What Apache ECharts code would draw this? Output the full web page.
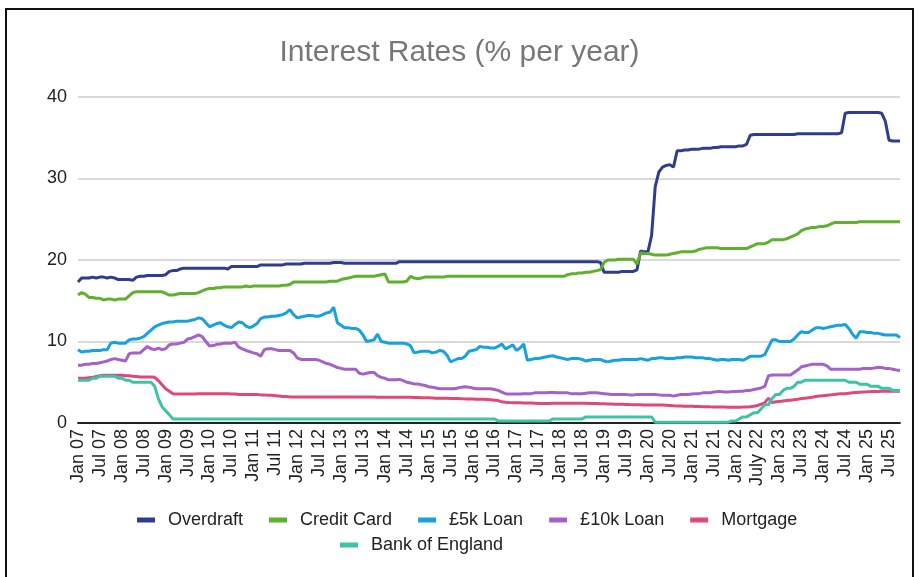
<!DOCTYPE html>
<html>
<head>
<meta charset="utf-8">
<script src="https://cdn.jsdelivr.net/npm/echarts@6/dist/echarts.min.js"></script>
<style>
html,body{margin:0;padding:0;background:#fff;}
#chart{width:919px;height:577px;}
#frame{position:absolute;left:5px;top:8px;width:909px;height:600px;border:2px solid #111;box-sizing:border-box;pointer-events:none;}
</style>
</head>
<body>
<div id="chart"></div>
<div id="frame"></div>
<script>
// Monthly values, Jan 2007 .. Oct 2025 (one line per year)
const overdraft = [
17.3,17.8,17.8,17.8,17.9,17.8,17.9,17.9,17.8,17.9,17.8,17.6,
17.6,17.6,17.6,17.5,17.9,18.0,18.0,18.1,18.1,18.1,18.1,18.1,
18.2,18.6,18.7,18.7,18.9,19.0,19.0,19.0,19.0,19.0,19.0,19.0,
19.0,19.0,19.0,19.0,19.0,18.9,19.2,19.2,19.2,19.2,19.2,19.2,
19.2,19.2,19.4,19.4,19.4,19.4,19.4,19.4,19.4,19.5,19.5,19.5,
19.5,19.5,19.6,19.6,19.6,19.6,19.6,19.6,19.6,19.6,19.7,19.7,
19.7,19.6,19.6,19.6,19.6,19.6,19.6,19.6,19.6,19.6,19.6,19.6,
19.6,19.6,19.6,19.6,19.8,19.8,19.8,19.8,19.8,19.8,19.8,19.8,
19.8,19.8,19.8,19.8,19.8,19.8,19.8,19.8,19.8,19.8,19.8,19.8,
19.8,19.8,19.8,19.8,19.8,19.8,19.8,19.8,19.8,19.8,19.8,19.8,
19.8,19.8,19.8,19.8,19.8,19.8,19.8,19.8,19.8,19.8,19.8,19.8,
19.8,19.8,19.8,19.8,19.8,19.8,19.8,19.8,19.8,19.8,19.8,19.7,
18.5,18.5,18.5,18.5,18.5,18.6,18.6,18.6,18.6,18.8,21.1,21.0,
21.0,23.0,29.0,30.8,31.4,31.6,31.7,31.4,33.4,33.4,33.5,33.5,
33.6,33.6,33.6,33.7,33.7,33.7,33.8,33.8,33.9,33.9,33.9,33.9,
33.9,34.0,34.0,34.2,35.3,35.4,35.4,35.4,35.4,35.4,35.4,35.4,
35.4,35.4,35.4,35.4,35.4,35.5,35.5,35.5,35.5,35.5,35.5,35.5,
35.5,35.5,35.5,35.5,35.5,35.6,38.0,38.1,38.1,38.1,38.1,38.1,
38.1,38.1,38.1,38.1,38.0,37.0,34.7,34.6,34.6,34.6
];
const creditCard = [
15.7,16.0,15.8,15.4,15.4,15.3,15.3,15.1,15.2,15.2,15.1,15.2,
15.2,15.2,15.6,16.0,16.1,16.1,16.1,16.1,16.1,16.1,16.1,16.1,
15.9,15.7,15.7,15.8,15.9,15.9,15.9,15.9,15.9,16.0,16.2,16.4,
16.5,16.5,16.6,16.6,16.7,16.7,16.7,16.7,16.7,16.7,16.8,16.7,
16.8,16.8,16.8,16.8,16.8,16.8,16.8,16.8,16.9,16.9,17.0,17.3,
17.3,17.3,17.3,17.3,17.3,17.3,17.3,17.3,17.3,17.4,17.4,17.4,
17.6,17.7,17.8,17.9,18.0,18.0,18.0,18.0,18.0,18.0,18.1,18.2,
18.3,17.3,17.3,17.3,17.3,17.3,17.4,18.0,17.8,17.7,17.8,17.9,
17.9,17.9,17.9,17.9,17.9,18.0,18.0,18.0,18.0,18.0,18.0,18.0,
18.0,18.0,18.0,18.0,18.0,18.0,18.0,18.0,18.0,18.0,18.0,18.0,
18.0,18.0,18.0,18.0,18.0,18.0,18.0,18.0,18.0,18.0,18.0,18.0,
18.0,18.0,18.2,18.3,18.3,18.4,18.4,18.5,18.5,18.6,18.7,18.8,
19.7,20.0,20.0,20.0,20.1,20.1,20.1,20.1,20.1,19.5,20.9,20.8,
20.8,20.7,20.6,20.6,20.6,20.6,20.7,20.8,20.9,21.0,21.0,21.0,
21.0,21.1,21.3,21.4,21.5,21.5,21.5,21.5,21.4,21.4,21.4,21.4,
21.4,21.4,21.4,21.4,21.6,21.8,22.0,22.0,22.0,22.2,22.5,22.5,
22.5,22.5,22.6,22.8,23.0,23.2,23.6,23.8,23.9,24.0,24.0,24.1,
24.1,24.2,24.4,24.6,24.6,24.6,24.6,24.6,24.6,24.6,24.7,24.7,
24.7,24.7,24.7,24.7,24.7,24.7,24.7,24.7,24.7,24.7
];
const loan5k = [
9.0,8.7,8.8,8.8,8.9,8.9,8.9,9.0,9.0,9.8,9.9,9.8,
9.8,9.8,10.2,10.3,10.3,10.4,10.6,11.0,11.4,11.8,12.0,12.2,
12.3,12.4,12.4,12.5,12.5,12.5,12.5,12.6,12.7,12.9,12.8,12.3,
11.8,12.0,12.2,12.3,12.0,11.8,11.7,12.1,12.4,12.3,11.9,11.7,
11.9,12.2,12.8,13.0,13.0,13.1,13.1,13.2,13.3,13.5,13.9,13.3,
12.9,13.0,13.1,13.2,13.2,13.1,13.1,13.3,13.5,13.6,14.2,12.3,
12.0,11.7,11.7,11.6,11.6,11.4,10.8,10.0,10.1,10.2,10.9,10.0,
9.9,9.8,9.8,9.8,9.8,9.8,9.7,9.5,8.6,8.7,8.8,8.8,
8.8,8.6,8.7,8.9,8.8,8.3,7.5,7.7,7.9,7.9,8.2,8.8,
8.9,9.0,9.4,9.3,9.3,9.2,9.2,9.4,9.7,9.1,9.3,9.6,
8.9,9.2,9.7,7.7,7.8,7.9,7.9,8.0,8.1,8.2,8.25,8.1,
8.0,7.9,7.8,7.9,7.9,7.9,7.8,7.6,7.7,7.8,7.8,7.8,
7.6,7.5,7.6,7.7,7.7,7.8,7.8,7.8,7.8,7.8,7.9,7.8,
7.7,7.9,7.9,8.0,8.0,7.9,7.9,7.9,8.0,8.0,8.1,8.1,
8.1,8.0,8.0,8.0,7.9,7.9,7.8,7.7,7.8,7.8,7.7,7.8,
7.8,7.8,7.7,7.9,8.2,8.2,8.2,8.2,8.4,9.3,10.2,10.2,
10.0,10.0,10.0,10.0,10.3,10.8,11.2,11.1,11.1,11.4,11.7,11.7,
11.6,11.7,11.8,11.9,12.0,12.0,12.1,11.6,10.9,10.4,11.2,11.2,
11.1,11.1,11.0,11.0,10.9,10.8,10.8,10.8,10.8,10.5
];
const loan10k = [
7.1,7.1,7.2,7.2,7.3,7.3,7.4,7.5,7.6,7.8,7.9,7.8,
7.7,7.6,8.5,8.6,8.6,8.6,9.0,9.4,9.1,9.0,9.2,9.0,
9.1,9.6,9.7,9.7,9.8,9.9,10.3,10.4,10.6,10.8,10.6,10.0,
9.45,9.5,9.65,9.7,9.8,9.8,9.8,9.9,9.3,9.1,8.9,8.75,
8.6,8.5,8.2,9.0,9.1,9.1,9.0,8.9,8.9,8.9,8.9,8.6,
8.0,7.8,7.8,7.8,7.8,7.8,7.7,7.5,7.3,7.2,7.0,6.8,
6.7,6.6,6.6,6.6,6.6,6.1,6.0,6.1,6.2,6.2,5.8,5.6,
5.5,5.3,5.3,5.3,5.35,5.2,5.0,4.9,4.8,4.8,4.7,4.6,
4.45,4.4,4.3,4.2,4.2,4.2,4.2,4.2,4.3,4.4,4.45,4.4,
4.3,4.2,4.2,4.2,4.2,4.2,4.1,4.0,3.8,3.6,3.55,3.55,
3.55,3.55,3.6,3.6,3.6,3.7,3.7,3.7,3.7,3.75,3.75,3.7,
3.7,3.7,3.7,3.6,3.6,3.6,3.6,3.65,3.7,3.7,3.7,3.65,
3.6,3.55,3.5,3.5,3.5,3.5,3.5,3.45,3.45,3.5,3.5,3.5,
3.5,3.5,3.5,3.45,3.4,3.4,3.4,3.3,3.4,3.5,3.5,3.5,
3.55,3.6,3.6,3.7,3.7,3.7,3.8,3.85,3.85,3.8,3.8,3.85,
3.85,3.9,3.9,4.0,4.0,4.1,4.2,4.3,4.5,5.8,5.9,5.9,
5.9,5.9,5.9,5.9,6.2,6.5,6.9,7.0,7.1,7.2,7.2,7.2,
7.2,7.0,6.6,6.6,6.6,6.6,6.6,6.6,6.6,6.6,6.6,6.7,
6.7,6.7,6.75,6.85,6.8,6.7,6.7,6.6,6.5,6.45
];
const mortgage = [
5.5,5.5,5.5,5.55,5.6,5.7,5.8,5.85,5.85,5.85,5.85,5.85,
5.85,5.8,5.8,5.75,5.7,5.65,5.65,5.65,5.65,5.6,5.2,4.7,
4.2,3.9,3.6,3.55,3.55,3.55,3.55,3.55,3.55,3.6,3.6,3.6,
3.6,3.6,3.6,3.6,3.6,3.6,3.55,3.55,3.5,3.5,3.5,3.5,
3.5,3.5,3.45,3.45,3.4,3.4,3.35,3.3,3.25,3.25,3.2,3.2,
3.2,3.2,3.2,3.2,3.2,3.2,3.2,3.2,3.2,3.2,3.2,3.2,
3.2,3.2,3.2,3.2,3.2,3.2,3.2,3.18,3.18,3.18,3.17,3.17,
3.15,3.15,3.15,3.15,3.15,3.15,3.15,3.15,3.12,3.12,3.1,3.1,
3.1,3.08,3.05,3.05,3.05,3.03,3.0,3.0,3.0,2.98,2.96,2.95,
2.94,2.92,2.9,2.9,2.88,2.85,2.8,2.75,2.6,2.55,2.52,2.5,
2.5,2.48,2.46,2.45,2.44,2.42,2.4,2.4,2.4,2.4,2.42,2.42,
2.42,2.42,2.42,2.42,2.42,2.42,2.42,2.42,2.4,2.4,2.38,2.36,
2.35,2.34,2.32,2.3,2.3,2.3,2.28,2.26,2.25,2.25,2.24,2.22,
2.2,2.2,2.2,2.2,2.2,2.18,2.16,2.12,2.1,2.08,2.06,2.05,
2.05,2.03,2.02,2.0,2.0,1.98,1.97,1.96,1.95,1.95,1.94,1.94,
1.94,1.94,1.95,1.97,2.0,2.05,2.15,2.3,2.5,3.05,2.5,2.6,
2.65,2.7,2.75,2.8,2.85,2.9,3.0,3.05,3.1,3.15,3.25,3.3,
3.35,3.4,3.45,3.5,3.55,3.6,3.6,3.65,3.7,3.75,3.78,3.8,
3.82,3.85,3.87,3.88,3.9,3.9,3.9,3.9,3.9,3.9
];
const bankOfEngland = [
5.25,5.25,5.25,5.25,5.5,5.5,5.75,5.75,5.75,5.75,5.75,5.5,
5.5,5.25,5.25,5.0,5.0,5.0,5.0,5.0,5.0,4.5,3.0,2.0,
1.5,1.0,0.5,0.5,0.5,0.5,0.5,0.5,0.5,0.5,0.5,0.5,
0.5,0.5,0.5,0.5,0.5,0.5,0.5,0.5,0.5,0.5,0.5,0.5,
0.5,0.5,0.5,0.5,0.5,0.5,0.5,0.5,0.5,0.5,0.5,0.5,
0.5,0.5,0.5,0.5,0.5,0.5,0.5,0.5,0.5,0.5,0.5,0.5,
0.5,0.5,0.5,0.5,0.5,0.5,0.5,0.5,0.5,0.5,0.5,0.5,
0.5,0.5,0.5,0.5,0.5,0.5,0.5,0.5,0.5,0.5,0.5,0.5,
0.5,0.5,0.5,0.5,0.5,0.5,0.5,0.5,0.5,0.5,0.5,0.5,
0.5,0.5,0.5,0.5,0.5,0.5,0.5,0.25,0.25,0.25,0.25,0.25,
0.25,0.25,0.25,0.25,0.25,0.25,0.25,0.25,0.25,0.25,0.5,0.5,
0.5,0.5,0.5,0.5,0.5,0.5,0.5,0.75,0.75,0.75,0.75,0.75,
0.75,0.75,0.75,0.75,0.75,0.75,0.75,0.75,0.75,0.75,0.75,0.75,
0.75,0.75,0.1,0.1,0.1,0.1,0.1,0.1,0.1,0.1,0.1,0.1,
0.1,0.1,0.1,0.1,0.1,0.1,0.1,0.1,0.1,0.1,0.1,0.25,
0.25,0.5,0.75,0.75,1.0,1.25,1.25,1.75,2.25,2.25,3.0,3.5,
3.5,4.0,4.25,4.25,4.5,5.0,5.0,5.25,5.25,5.25,5.25,5.25,
5.25,5.25,5.25,5.25,5.25,5.25,5.25,5.0,5.0,5.0,4.75,4.75,
4.75,4.5,4.5,4.5,4.25,4.25,4.25,4.0,4.0,4.0
];
const seriesNames = ['Overdraft','Credit Card','£5k Loan','£10k Loan','Mortgage','Bank of England'];
const seriesColors = ['#2e3d8e','#5fb02c','#17a2dd','#a462c8','#e0477b','#3dc3a7'];
const tickLabels = ['Jan 07','Jul 07','Jan 08','Jul 08','Jan 09','Jul 09','Jan 10','Jul 10','Jan 11','Jul 11',
'Jan 12','Jul 12','Jan 13','Jul 13','Jan 14','Jul 14','Jan 15','Jul 15','Jan 16','Jul 16','Jan 17','Jul 17',
'Jan 18','Jul 18','Jan 19','Jul 19','Jan 20','Jul 20','Jan 21','Jul 21','Jan 22','July 22','Jan 23','Jul 23',
'Jan 24','Jul 24','Jan 25','Jul 25'];
const monthNames = ['Jan','Feb','Mar','Apr','May','Jun','Jul','Aug','Sep','Oct','Nov','Dec'];

const categories = overdraft.map((_, i) => monthNames[i % 12] + ' ' + String(7 + Math.floor(i / 12)).padStart(2, '0'));
const allData = [overdraft, creditCard, loan5k, loan10k, mortgage, bankOfEngland];

const chart = echarts.init(document.getElementById('chart'), null, {renderer: 'canvas'});
const FONT = "'Liberation Sans', Arial, sans-serif";
const legendText = {fontSize: 18, color: '#222', fontFamily: FONT, padding: [0, 0, 0, 8]};
chart.setOption({
  animation: false,
  backgroundColor: '#ffffff',
  textStyle: {fontFamily: FONT},
  title: {
    text: 'Interest Rates (% per year)',
    left: 'center',
    top: 38,
    padding: 0,
    textStyle: {fontSize: 30, fontWeight: 'normal', color: '#777777', fontFamily: FONT}
  },
  legend: [
    {
      data: seriesNames.slice(0, 5),
      left: 137, top: 511, padding: 0,
      icon: 'rect', itemWidth: 18, itemHeight: 5, itemGap: 26,
      textStyle: legendText
    },
    {
      data: seriesNames.slice(5),
      left: 340, top: 536, padding: 0,
      icon: 'rect', itemWidth: 18, itemHeight: 5,
      textStyle: legendText
    }
  ],
  grid: {left: 78, right: 19, top: 97, bottom: 154},
  xAxis: {
    type: 'category',
    data: categories,
    boundaryGap: false,
    axisLine: {lineStyle: {color: '#222', width: 1.8}},
    axisTick: {show: false},
    axisLabel: {
      interval: 5,
      rotate: 90,
      fontSize: 18,
      color: '#222',
      margin: 6,
      formatter: (v, i) => (i % 6 === 0 ? tickLabels[i / 6] : '')
    },
    splitLine: {show: false}
  },
  yAxis: {
    type: 'value',
    min: 0, max: 40, interval: 10,
    axisLine: {show: false},
    axisTick: {show: false},
    axisLabel: {fontSize: 18, color: '#222', margin: 11},
    splitLine: {lineStyle: {color: '#cccccc', width: 1.5}}
  },
  series: allData.map((d, k) => ({
    name: seriesNames[k],
    type: 'line',
    data: d,
    showSymbol: false,
    symbol: 'none',
    color: seriesColors[k],
    lineStyle: {width: 3, color: seriesColors[k]}
  }))
});
</script>
</body>
</html>
